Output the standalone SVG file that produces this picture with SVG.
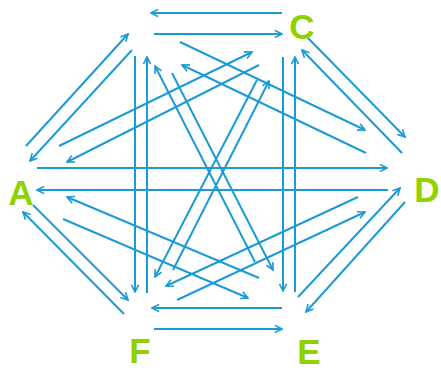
<svg xmlns="http://www.w3.org/2000/svg" width="441" height="371" viewBox="0 0 441 371">
<style>
.e{stroke:#1b9bd5;stroke-width:2;fill:none;marker-end:url(#ah)}
.lbl{font-family:"Liberation Sans",Arial,sans-serif;font-weight:bold;font-size:35px;fill:#8fd200;text-anchor:middle}
</style>
<defs>
<marker id="ah" viewBox="0 0 10 10" refX="9" refY="5" markerWidth="9" markerHeight="9" markerUnits="userSpaceOnUse" orient="auto">
<path d="M1,1 L9,5 L1,9" fill="none" stroke="#1b9bd5" stroke-width="1.8"/>
</marker>
</defs>
<rect width="441" height="371" fill="#fff"/>
<g id="connectors">
<line class="e" x1="282" y1="13" x2="151" y2="13"/>
<line class="e" x1="154" y1="34" x2="282" y2="34"/>
<line class="e" x1="180" y1="42" x2="365" y2="130"/>
<line class="e" x1="366" y1="153" x2="182" y2="65"/>
<line class="e" x1="59" y1="146" x2="252" y2="52"/>
<line class="e" x1="259" y1="65" x2="67" y2="162"/>
<line class="e" x1="26" y1="146" x2="128" y2="34"/>
<line class="e" x1="132" y1="50" x2="30" y2="161"/>
<line class="e" x1="135" y1="56" x2="135" y2="292"/>
<line class="e" x1="147" y1="293" x2="147" y2="57"/>
<line class="e" x1="172" y1="73" x2="273" y2="270"/>
<line class="e" x1="255" y1="262" x2="155" y2="66"/>
<line class="e" x1="257" y1="80" x2="155" y2="277"/>
<line class="e" x1="173" y1="270" x2="269" y2="81"/>
<line class="e" x1="283" y1="57" x2="283" y2="291"/>
<line class="e" x1="295" y1="292" x2="295" y2="57"/>
<line class="e" x1="308" y1="38" x2="405" y2="137"/>
<line class="e" x1="402" y1="153" x2="302" y2="50"/>
<line class="e" x1="37" y1="168" x2="387" y2="168"/>
<line class="e" x1="388" y1="190" x2="37" y2="190"/>
<line class="e" x1="63" y1="219" x2="248" y2="298"/>
<line class="e" x1="259" y1="278" x2="67" y2="197"/>
<line class="e" x1="33" y1="205" x2="128" y2="300"/>
<line class="e" x1="124" y1="314" x2="23" y2="212"/>
<line class="e" x1="358" y1="197" x2="166" y2="286"/>
<line class="e" x1="177" y1="300" x2="365" y2="212"/>
<line class="e" x1="405" y1="202" x2="306" y2="312"/>
<line class="e" x1="298" y1="297" x2="400" y2="188"/>
<line class="e" x1="282" y1="308" x2="152" y2="308"/>
<line class="e" x1="154" y1="329" x2="282" y2="329"/>
</g>
<g id="node-A"><text class="lbl" x="21" y="205">A</text></g>
<g id="node-C"><text class="lbl" x="302" y="39">C</text></g>
<g id="node-D"><text class="lbl" x="427" y="202">D</text></g>
<g id="node-E"><text class="lbl" x="309" y="364">E</text></g>
<g id="node-F"><text class="lbl" x="140" y="363">F</text></g>
</svg>
